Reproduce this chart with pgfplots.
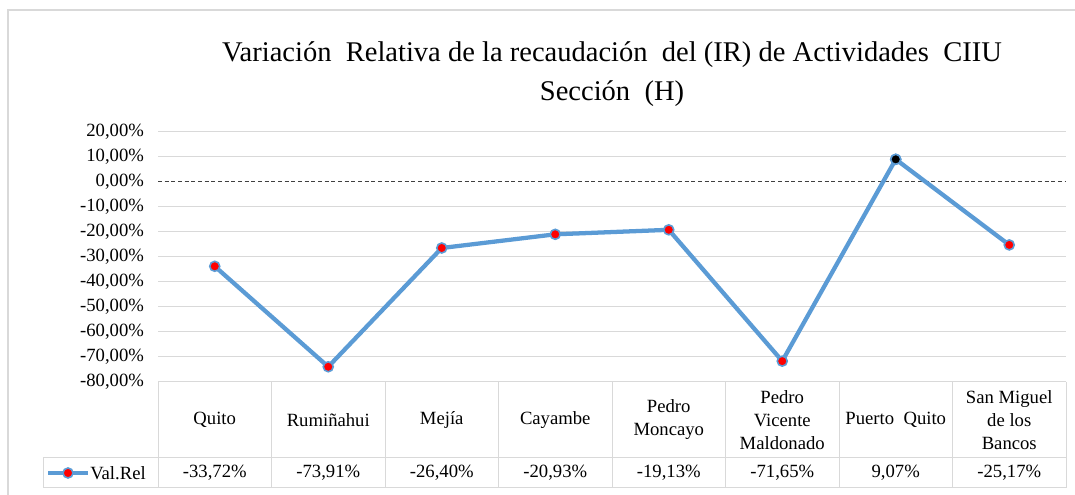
\documentclass[border=0pt]{standalone}
\usepackage{fontspec}
\setmainfont{Liberation Serif}
\usepackage{pgfplots}
\pgfplotsset{compat=1.18}
\definecolor{serie}{RGB}{91,155,213}
\definecolor{grilla}{RGB}{217,217,217}

\begin{document}
\begin{tikzpicture}[x=0.75pt,y=0.75pt]
\useasboundingbox (0,0) rectangle (1075,495);
\draw[grilla, line width=1.5pt] (8,0) -- (8,485) -- (1075,485);

% titulo
\node[font=\fontsize{21.4}{26}\selectfont, anchor=base] at (612,433) {Variación\ \ Relativa de la recaudación\ \ del (IR) de Actividades\ \ CIIU};
\node[font=\fontsize{21.4}{26}\selectfont, anchor=base] at (612,394) {Sección\ \ (H)};

\begin{axis}[
    at={(118.5pt,84.75pt)}, anchor=south west,
    width=681pt, height=187.5pt, scale only axis,
    xmin=0.5, xmax=8.5, ymin=-80, ymax=20,
    axis line style={draw=none},
    tick style={draw=none},
    xtick=\empty,
    ytick={-80,-70,-60,-50,-40,-30,-20,-10,10,20},
    yticklabels={{-80,00\%},{-70,00\%},{-60,00\%},{-50,00\%},{-40,00\%},{-30,00\%},{-20,00\%},{-10,00\%},{10,00\%},{20,00\%}},
    extra y ticks={0},
    extra y tick style={yticklabel={{0,00\%}}, grid style={black!75, dash pattern=on 3pt off 2pt, line width=0.75pt}},
    ymajorgrids,
    grid style={grilla, line width=0.75pt},
    yticklabel style={font=\fontsize{14}{16}\selectfont, xshift=-7pt},
    clip=false,
]
\addplot[serie, line width=3.2pt, mark=*, mark size=3.75pt,
    mark options={fill=red, draw=serie, line width=1.2pt}]
    coordinates {(1,-33.72)(2,-73.91)(3,-26.40)(4,-20.93)(5,-19.13)(6,-71.65)(7,9.07)(8,-25.17)};
\addplot[only marks, mark=*, mark size=3.75pt,
    mark options={fill=black, draw=serie, line width=1.2pt}]
    coordinates {(7,9.07)};
\end{axis}

% tabla de datos
\draw[grilla, line width=0.75pt] (158,113) -- (1066,113);
\draw[grilla, line width=0.75pt] (43,37) -- (1066,37);
\draw[grilla, line width=0.75pt] (43,7) -- (1066,7);
\draw[grilla, line width=0.75pt] (43,37) -- (43,7);
\foreach \i in {0,...,8} \draw[grilla, line width=0.75pt] ({158+113.5*\i},113) -- ({158+113.5*\i},7);

\foreach \nom [count=\i] in {Quito,Rumiñahui,Mejía,Cayambe,{Pedro\\Moncayo},{Pedro\\Vicente\\Maldonado},{Puerto\ \ Quito},{San Miguel\\de los\\Bancos}}
  \node[font=\fontsize{14}{17.25}\selectfont, align=center] at ({158+113.5*(\i-0.5)},75) {\nom};

\foreach \v [count=\i] in {{-33,72\%},{-73,91\%},{-26,40\%},{-20,93\%},{-19,13\%},{-71,65\%},{9,07\%},{-25,17\%}}
  \node[font=\fontsize{14}{16}\selectfont] at ({158+113.5*(\i-0.5)},22) {\v};

% leyenda
\draw[serie, line width=3.2pt] (48,22) -- (88,22);
\fill[red, draw=serie, line width=1.2pt] (68,22) circle (3.75pt);
\node[font=\fontsize{14}{16}\selectfont, anchor=west, inner sep=0pt] at (90,22) {Val.Rel};
\end{tikzpicture}
\end{document}
